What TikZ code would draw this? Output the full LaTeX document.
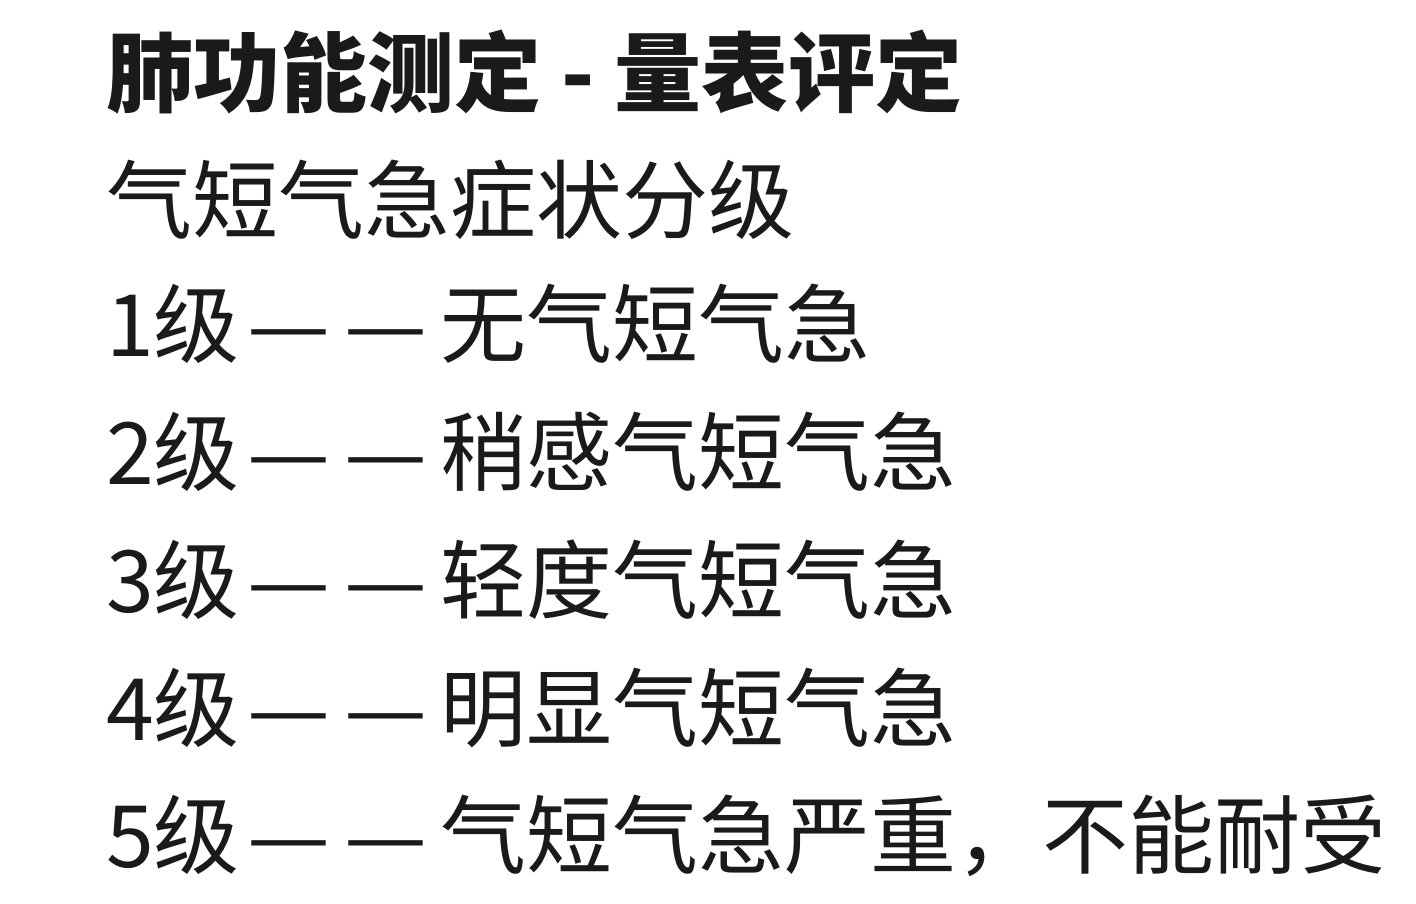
\documentclass[tikz,border=0pt]{standalone}
\usepackage{fontspec}
\setmainfont{Noto Sans CJK SC}
\definecolor{ink}{HTML}{1A1A1A}
\newcommand{\dd}{\kern8pt\scalebox{1.08}[1]{—}\kern14pt\scalebox{1.08}[1]{—}\kern12pt}
\begin{document}
\begin{tikzpicture}[x=1pt,y=-1pt,
  ln/.style={anchor=west,inner sep=0pt,text=ink,font=\fontsize{86}{90}\selectfont}]
\useasboundingbox[fill=white] (0,0) rectangle (1416,903);
\node[ln,font=\fontsize{87}{90}\selectfont\bfseries] (t) at (106,72) {肺功能测定 - 量表评定};
\node[ln] (h) at (106,200) {气短气急症状分级};
\node[ln] (l1) at (106,324) {1级\dd 无气短气急};
\node[ln] (l2) at (106,452) {2级\dd 稍感气短气急};
\node[ln] (l3) at (106,580) {3级\dd 轻度气短气急};
\node[ln] (l4) at (106,708) {4级\dd 明显气短气急};
\node[ln] (l5) at (106,836) {5级\dd 气短气急严重，不能耐受};
\end{tikzpicture}
\end{document}
